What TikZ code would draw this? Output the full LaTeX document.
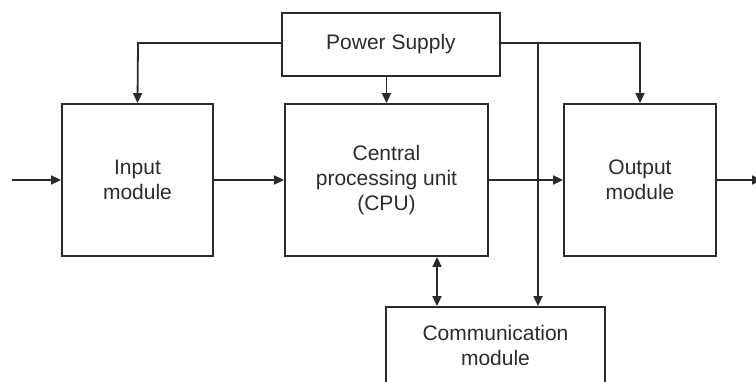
\documentclass[tikz,border=0pt]{standalone}
\usepackage{fontspec}
\setmainfont{Liberation Sans}
\usetikzlibrary{arrows.meta,calc}
\definecolor{ink}{HTML}{2B2B2B}
\begin{document}
\begin{tikzpicture}[x=1pt,y=-1pt,
  block/.style={draw=ink,line width=1.8pt,rectangle,inner sep=0pt,
    text=ink,align=center,font=\fontsize{21}{25}\selectfont},
  link/.style={draw=ink,line width=1.8pt,-{Triangle[length=10pt,width=9pt]}},
  wire/.style={draw=ink,line width=1.8pt},
  twoway/.style={draw=ink,line width=1.8pt,{Triangle[length=10pt,width=9pt]}-{Triangle[length=10pt,width=9pt]}}]
\useasboundingbox (0,0) rectangle (756,381);

% blocks
\node[block,minimum width=218pt,minimum height=63pt] (power) at (391,44.5) {Power Supply};
\node[block,minimum width=151pt,minimum height=152pt] (input) at (137.5,180) {Input\\module};
\node[block,minimum width=203pt,minimum height=152pt] (cpu) at (386.5,180) {Central\\processing unit\\(CPU)};
\node[block,minimum width=152pt,minimum height=152pt] (output) at (640,180) {Output\\module};
\node[block,minimum width=219pt,minimum height=100pt] (comm) at (495.5,357) {};
\node[block,draw=none] (commtext) at (495.5,345) {Communication\\module};

% signal path
\coordinate (src) at (12,180);
\coordinate (sink) at (762,180);
\draw[link] (src) -- (input.west);
\draw[link] (input.east) -- (cpu.west);
\draw[link] (cpu.east) -- (output.west);
\draw[link] (output.east) -- (sink);

% power distribution
\coordinate (pl) at (138,43);
\coordinate (pr) at (640,43);
\coordinate (tap) at (538,43);
\draw[link] (power.west |- pl) -- (pl) -- (input.north);
\draw[link] (power.south -| cpu.north) -- (cpu.north);
\draw[link] (power.east |- pr) -- (pr) -- (output.north);
\draw[link] (tap) -- (tap |- comm.north);

% CPU <-> communication
\coordinate (bus) at (437,0);
\draw[twoway] (bus |- cpu.south) -- (bus |- comm.north);
\end{tikzpicture}
\end{document}
